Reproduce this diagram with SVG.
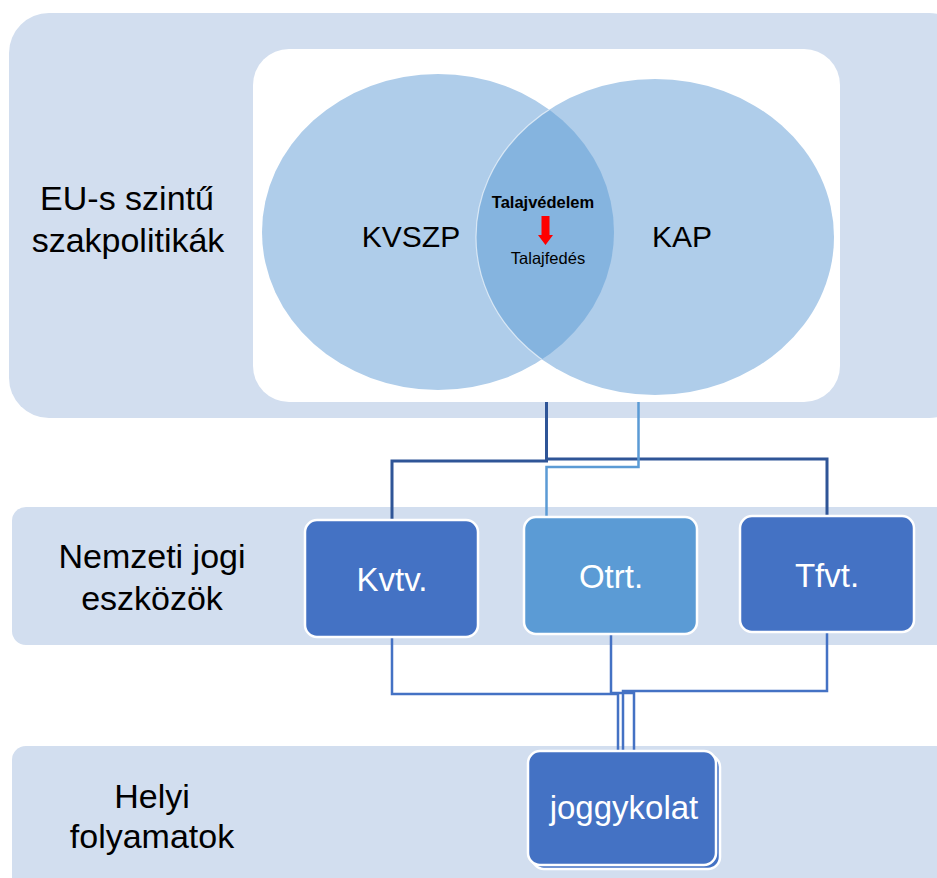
<svg xmlns="http://www.w3.org/2000/svg" width="937" height="878" viewBox="0 0 937 878">
  <style>
    .band { fill: #D2DEEF; }
    .lbl { font-family: "Liberation Sans", Arial, sans-serif; font-size: 34px; fill: #000; text-anchor: middle; }
    .box { stroke: #FFFFFF; stroke-width: 2.5; }
    .boxtxt { font-family: "Liberation Sans", Arial, sans-serif; font-size: 33px; fill: #FFFFFF; text-anchor: middle; }
    .venn { font-family: "Liberation Sans", Arial, sans-serif; fill: #000; text-anchor: middle; }
    .c-dark { fill: none; stroke: #2F5597; stroke-width: 3; }
    .c-light { fill: none; stroke: #5B9BD5; stroke-width: 2.5; }
    .c-mid { fill: none; stroke: #4472C4; stroke-width: 2.5; }
  </style>
  <defs>
    <clipPath id="leftClip">
      <ellipse cx="438" cy="232" rx="176" ry="158"/>
    </clipPath>
  </defs>

  <rect width="937" height="878" fill="#FFFFFF"/>

  <!-- level bands -->
  <g id="band-eu">
    <rect class="band" x="9" y="13" width="960" height="405" rx="40"/>
    <rect x="253" y="49" width="587" height="353" rx="36" fill="#FFFFFF"/>
    <text class="lbl" x="127" y="210">EU-s szintű</text>
    <text class="lbl" x="128" y="252">szakpolitikák</text>
  </g>
  <g id="band-national">
    <rect class="band" x="12" y="507" width="960" height="138" rx="14"/>
    <text class="lbl" x="152" y="568">Nemzeti jogi</text>
    <text class="lbl" x="152" y="610">eszközök</text>
  </g>
  <g id="band-local">
    <rect class="band" x="12" y="746" width="960" height="160" rx="14"/>
    <text class="lbl" x="152" y="808">Helyi</text>
    <text class="lbl" x="152" y="848">folyamatok</text>
  </g>

  <!-- policy overlap -->
  <g id="venn">
    <ellipse cx="438" cy="232" rx="176" ry="158" fill="#AFCDEA"/>
    <ellipse cx="655" cy="237" rx="179" ry="158" fill="#AFCDEA"/>
    <g clip-path="url(#leftClip)">
      <ellipse cx="655" cy="237" rx="179" ry="158" fill="#85B4DF" stroke="#FFFFFF" stroke-opacity="0.6" stroke-width="1.2"/>
    </g>
    <text class="venn" x="411" y="247" font-size="30">KVSZP</text>
    <text class="venn" x="682" y="247" font-size="30">KAP</text>
    <text class="venn" x="543" y="208" font-size="16.5" font-weight="bold">Talajvédelem</text>
    <path d="M541.5,216 H549.5 V235 H553 L545.5,245 L538,235 H541.5 Z" fill="#FF0000"/>
    <text class="venn" x="548" y="264" font-size="16.5">Talajfedés</text>
  </g>

  <!-- connectors -->
  <g id="connectors">
    <path class="c-dark" d="M546.5,402 V461 H392 V519"/>
    <path class="c-dark" d="M546.5,459 H827 V517"/>
    <path class="c-light" d="M638.5,402 V467 H546.5 V518"/>
    <path class="c-mid" d="M392,637 V694 H618 V750"/>
    <path class="c-mid" d="M611,634 V693 H634 V750"/>
    <path class="c-mid" d="M827,632 V691 H623 V750"/>
  </g>

  <!-- nodes -->
  <g id="node-kvtv">
    <rect class="box" x="305" y="520" width="173" height="117" rx="12" fill="#4472C4"/>
    <text class="boxtxt" x="392" y="591">Kvtv.</text>
  </g>
  <g id="node-otrt">
    <rect class="box" x="524" y="517" width="173" height="117" rx="12" fill="#5B9BD5"/>
    <text class="boxtxt" x="611" y="588">Otrt.</text>
  </g>
  <g id="node-tfvt">
    <rect class="box" x="740" y="516" width="174" height="116" rx="12" fill="#4472C4"/>
    <text class="boxtxt" x="827" y="587">Tfvt.</text>
  </g>
  <g id="node-joggykolat">
    <rect class="box" x="532" y="755" width="188" height="114" rx="12" fill="#4472C4"/>
    <rect class="box" x="528" y="751" width="188" height="114" rx="12" fill="#4472C4"/>
    <text class="boxtxt" x="624" y="819">joggykolat</text>
  </g>
</svg>
